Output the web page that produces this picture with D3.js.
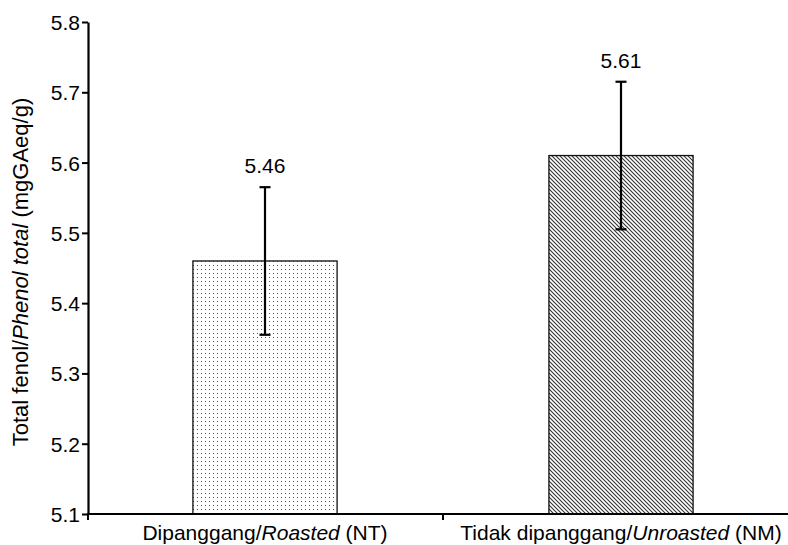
<!DOCTYPE html>
<html><head><meta charset="utf-8">
<script src="https://cdn.jsdelivr.net/npm/d3@7"></script>
<style>body{margin:0;background:#fff}text{font-family:"Liberation Sans",Arial,sans-serif}</style>
</head><body>
<svg id="c" width="788" height="545"></svg>
<script>
const categories = ["Dipanggang/Roasted (NT)", "Tidak dipanggang/Unroasted (NM)"];
const catMain = ["Dipanggang/", "Tidak dipanggang/"];
const catItalic = ["Roasted", "Unroasted"];
const catTail = [" (NT)", " (NM)"];
const values = [5.46, 5.61];
const errors = [0.105, 0.105];
const valueLabels = ["5.46", "5.61"];
const yTicks = [5.1, 5.2, 5.3, 5.4, 5.5, 5.6, 5.7, 5.8];

const svg = d3.select("#c");
const x = d3.scaleBand().domain(categories).range([87, 799]).padding(0);
const y = d3.scaleLinear().domain([5.1, 5.8]).range([514, 22]);
const barW = x.bandwidth() * 0.405;

const defs = svg.append("defs");
const p1 = defs.append("pattern").attr("id","dots").attr("patternUnits","userSpaceOnUse").attr("width",4).attr("height",4);
p1.append("rect").attr("width",4).attr("height",4).attr("fill","#fff");
p1.append("rect").attr("x",1).attr("y",1).attr("width",1).attr("height",1).attr("fill","#555");
const p2 = defs.append("pattern").attr("id","diag").attr("patternUnits","userSpaceOnUse").attr("width",4).attr("height",4);
p2.append("rect").attr("width",4).attr("height",4).attr("fill","#fff");
p2.append("path").attr("d","M-1,-1L5,5M-1,3L1,5M3,-1L5,1").attr("stroke","#333").attr("stroke-width",1.1);
const fills = ["url(#dots)", "url(#diag)"];

// bars
svg.selectAll("rect.bar").data(categories).join("rect").attr("class","bar")
  .attr("x", d => x(d) + x.bandwidth()/2 - barW/2)
  .attr("y", (d,i) => y(values[i]))
  .attr("width", barW)
  .attr("height", (d,i) => y(5.1) - y(values[i]))
  .attr("fill", (d,i) => fills[i])
  .attr("stroke", "#111").attr("stroke-width", 1.3);

// error bars
categories.forEach((c,i) => {
  const cx = x(c) + x.bandwidth()/2;
  const g = svg.append("g").attr("stroke","#000").attr("stroke-width",2.2);
  g.append("line").attr("x1",cx).attr("x2",cx).attr("y1",y(values[i]+errors[i])).attr("y2",y(values[i]-errors[i]));
  g.append("line").attr("x1",cx-5.5).attr("x2",cx+5.5).attr("y1",y(values[i]+errors[i])).attr("y2",y(values[i]+errors[i]));
  g.append("line").attr("x1",cx-5.5).attr("x2",cx+5.5).attr("y1",y(values[i]-errors[i])).attr("y2",y(values[i]-errors[i]));
  svg.append("text").attr("x",cx).attr("y",y(values[i]+errors[i]) - 14)
    .attr("text-anchor","middle").attr("font-size",21).text(valueLabels[i]);
});

// y axis
const yAx = svg.append("g").attr("transform","translate(88,0)")
  .call(d3.axisLeft(y).tickValues(yTicks).tickFormat(d3.format(".1f")).tickSize(6).tickSizeOuter(0));
yAx.select(".domain").attr("stroke-width",2.2);
yAx.selectAll(".tick line").attr("stroke-width",2);
yAx.selectAll(".tick text").attr("font-size",21).attr("font-family","Liberation Sans, Arial, sans-serif").attr("fill","#000").attr("x",-8).attr("dy","0.36em");

// x axis
svg.append("line").attr("x1",87).attr("x2",788).attr("y1",514).attr("y2",514).attr("stroke","#000").attr("stroke-width",2.2);
[x.range()[0] + x.bandwidth()].forEach(t => {
  svg.append("line").attr("x1",t).attr("x2",t).attr("y1",514).attr("y2",520).attr("stroke","#000").attr("stroke-width",2);
});
svg.append("line").attr("x1",88).attr("x2",88).attr("y1",514).attr("y2",520).attr("stroke","#000").attr("stroke-width",2);
categories.forEach((c,i) => {
  const t = svg.append("text").attr("x", x(c)+x.bandwidth()/2).attr("y",540).attr("text-anchor","middle").attr("font-size",21);
  t.append("tspan").text(catMain[i]);
  t.append("tspan").attr("font-style","italic").text(catItalic[i]);
  t.append("tspan").text(catTail[i]);
});

// y title
const yt = svg.append("text").attr("transform","translate(28,272) rotate(-90)").attr("text-anchor","middle").attr("font-size",22);
yt.append("tspan").text("Total fenol/");
yt.append("tspan").attr("font-style","italic").text("Phenol total");
yt.append("tspan").text(" (mgGAeq/g)");
</script>
</body></html>
